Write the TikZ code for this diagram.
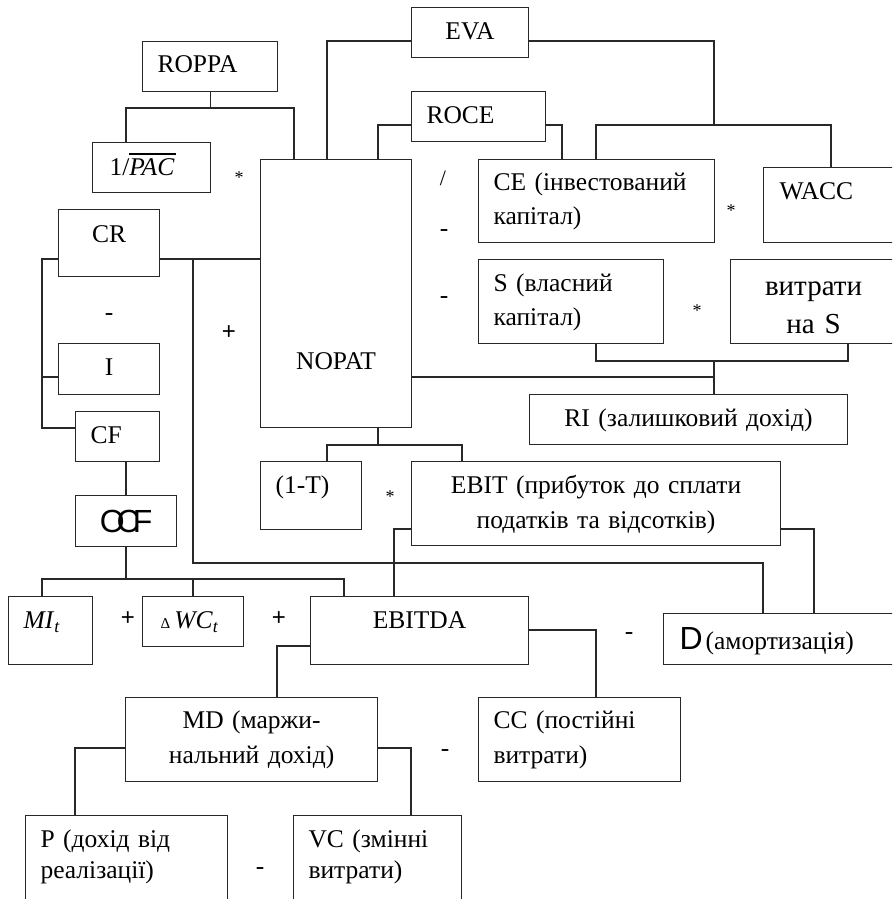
\documentclass[tikz,border=0pt]{standalone}
\usepackage{fontspec}
\setmainfont{Liberation Serif}
\setsansfont{Liberation Sans}
\definecolor{ink}{RGB}{40,40,40}

\begin{document}
\begin{tikzpicture}
[x=1pt, y=-1pt, line width=1.1pt, color=ink,
every node/.style={font=\fontsize{25.5}{34}\selectfont, text=black},
blk/.style={draw, rectangle, anchor=north west, inner ysep=0pt, inner xsep=15pt, align=left},
mid/.style={blk, inner xsep=5pt, align=center},
op/.style={anchor=base, inner sep=0pt},
star/.style={op, font=\fontsize{18}{18}\selectfont},
minus/.style={op, font=\fontsize{25.5}{25.5}\selectfont},
plus/.style={op, font=\sffamily\fontsize{24}{24}\selectfont}]
\path[use as bounding box, clip] (0,0) rectangle (892,899);

\node[blk, text width=105pt, text height=31pt, text depth=19pt] (roppa) at (142,41) {ROPPA};
\node[mid, text width=107pt, text height=32pt, text depth=18pt] (eva) at (411,7) {EVA};
\node[blk, text width=104pt, text height=32pt, text depth=18pt] (roce) at (411,91) {ROCE};
\node[blk, inner xsep=17pt, text width=84pt, text height=33pt, text depth=17pt] (pac) at (92,142) {1/\rlap{\raisebox{21pt}{\rule{47pt}{1.1pt}}}\textit{PAC}};
\node[mid, text width=91pt, text height=33pt, text depth=34pt] (cr) at (58,209) {CR};
\node[mid, text width=141pt, text height=210pt, text depth=58pt] (nopat) at (260,159) {NOPAT};
\node[blk, text width=206pt, text height=31pt, text depth=52pt] (ce) at (478,159) {CE (інвестований\\капітал)};
\node[blk, inner xsep=16pt, text width=103pt, text height=32pt, text depth=43pt] (wacc) at (763,167) {WACC};
\node[blk, text width=155pt, text height=32pt, text depth=52pt] (s) at (478,259) {S (власний\\капітал)};
\node[mid, text width=156pt, text height=36pt, text depth=48pt, font=\fontsize{29}{38}\selectfont] (cs) at (730,259) {витрати\\на S};
\node[mid, text width=308pt, text height=32pt, text depth=18pt] (ri) at (529,394) {RI (залишковий дохід)};
\node[blk, text width=71pt, text height=32pt, text depth=36pt] (tax) at (260,461) {(1-T)};
\node[mid, text width=359pt, text height=32pt, text depth=52pt, font=\fontsize{25.5}{35}\selectfont] (ebit) at (411,461) {EBIT (прибуток до сплати\\податків та відсотків)};
\node[mid, text width=91pt, text height=32pt, text depth=19pt] (i) at (58,343) {I};
\node[blk, text width=54pt, text height=32pt, text depth=18pt] (cf) at (75,411) {CF};
\node[mid, text width=91pt, text height=37pt, text depth=14pt, font=\sffamily\fontsize{32}{32}\selectfont] (ocf) at (75,495) {O\kern-8pt C\kern-7pt F};
\node[blk, text width=54pt, text height=32pt, text depth=36pt] (mi) at (8,596) {\textit{MI}\textsubscript{\textit{t}}};
\node[blk, inner xsep=18pt, text width=65pt, text height=32pt, text depth=18pt] (dwc) at (142,596) {{\fontsize{15}{15}\selectfont Δ}\,\textit{WC}\textsubscript{\textit{t}}};
\node[mid, text width=208pt, text height=32pt, text depth=36pt] (ebitda) at (310,596) {EBITDA};
\node[blk, inner xsep=16pt, text width=201pt, text height=36pt, text depth=15pt] (d) at (663,613) {{\sffamily\fontsize{32}{32}\selectfont D}\kern3pt(амортизація)};
\node[mid, text width=242pt, text height=31pt, text depth=53pt, font=\fontsize{25.5}{35}\selectfont] (md) at (125,697) {MD (маржи-\\нальний дохід)};
\node[blk, text width=172pt, text height=31pt, text depth=53pt, font=\fontsize{25.5}{35}\selectfont] (cc) at (478,697) {CC (постійні\\витрати)};
\node[blk, text width=172pt, text height=32pt, text depth=52pt, font=\fontsize{25.5}{31}\selectfont] (p) at (25,815) {P (дохід від\\реалізації)};
\node[blk, text width=138pt, text height=32pt, text depth=52pt, font=\fontsize{25.5}{31}\selectfont] (vc) at (293,815) {VC (змінні\\витрати)};

\node[star] (op1) at (239,183) {*};
\node[op, font=\fontsize{22}{22}\selectfont] (op2) at (443,185) {/};
\node[minus] (op3) at (444,236) {-};
\node[minus] (op4) at (444,303) {-};
\node[star] (op5) at (731,216) {*};
\node[star] (op6) at (697,316) {*};
\node[minus] (op7) at (109,320) {-};
\node[plus] (op8) at (229,339) {+};
\node[star] (op9) at (390,502) {*};
\node[plus] (op10) at (128,625) {+};
\node[plus] (op11) at (279,625) {+};
\node[minus] (op12) at (629,639) {-};
\node[minus] (op13) at (445,756) {-};
\node[minus] (op14) at (260,874) {-};

\coordinate (jeva) at (714,125);
\coordinate (jcr) at (193,259);
\coordinate (ji) at (42,377);
\coordinate (jnop) at (714,377);
\coordinate (jri) at (714,361);
\coordinate (jtax) at (378,445);
\coordinate (jocf) at (126,579);
\coordinate (jdwc) at (193,579);

\draw (roppa.south) -- (roppa.south |- 0,108);
\draw (pac.north -| 126,0) |- (294,108) -- (nopat.north -| 294,0);
\draw (eva.west |- 0,41) -| (nopat.north -| 327,0);
\draw (eva.east |- 0,41) -| (jeva);
\draw (ce.north -| 596,0) |- (831,125) -- (wacc.north -| 831,0);
\draw (roce.west |- 0,125) -| (nopat.north -| 378,0);
\draw (roce.east |- 0,125) -| (ce.north -| 562,0);
\draw (cr.west |- 0,259) -| (42,428) -- (cf.west |- 0,428);
\draw (ji) -- (i.west |- ji);
\draw (cr.east |- jcr) -- (nopat.west |- jcr);
\draw (jcr) |- (763,563) -- (d.north -| 763,0);
\draw (ebit.east |- 0,529) -| (d.north -| 814,0);
\draw (nopat.east |- jnop) -- (jnop);
\draw (s.south -| 596,0) |- (848,361) -- (cs.south -| 848,0);
\draw (jri) -- (ri.north -| jri);
\draw (nopat.south -| jtax) -- (jtax);
\draw (tax.north -| 327,0) |- (462,445) -- (ebit.north -| 462,0);
\draw (cf.south -| 126,0) -- (ocf.north -| 126,0);
\draw (ocf.south -| jocf) -- (jocf);
\draw (mi.north -| 42,0) |- (344,579) -- (ebitda.north -| 344,0);
\draw (jdwc) -- (dwc.north -| jdwc);
\draw (ebitda.north -| 394,0) |- (ebit.west |- 0,529);
\draw (ebitda.west |- 0,646) -| (md.north -| 277,0);
\draw (ebitda.east |- 0,630) -| (cc.north -| 596,0);
\draw (md.west |- 0,748) -| (p.north -| 75,0);
\draw (md.east |- 0,748) -| (vc.north -| 411,0);
\end{tikzpicture}
\end{document}
